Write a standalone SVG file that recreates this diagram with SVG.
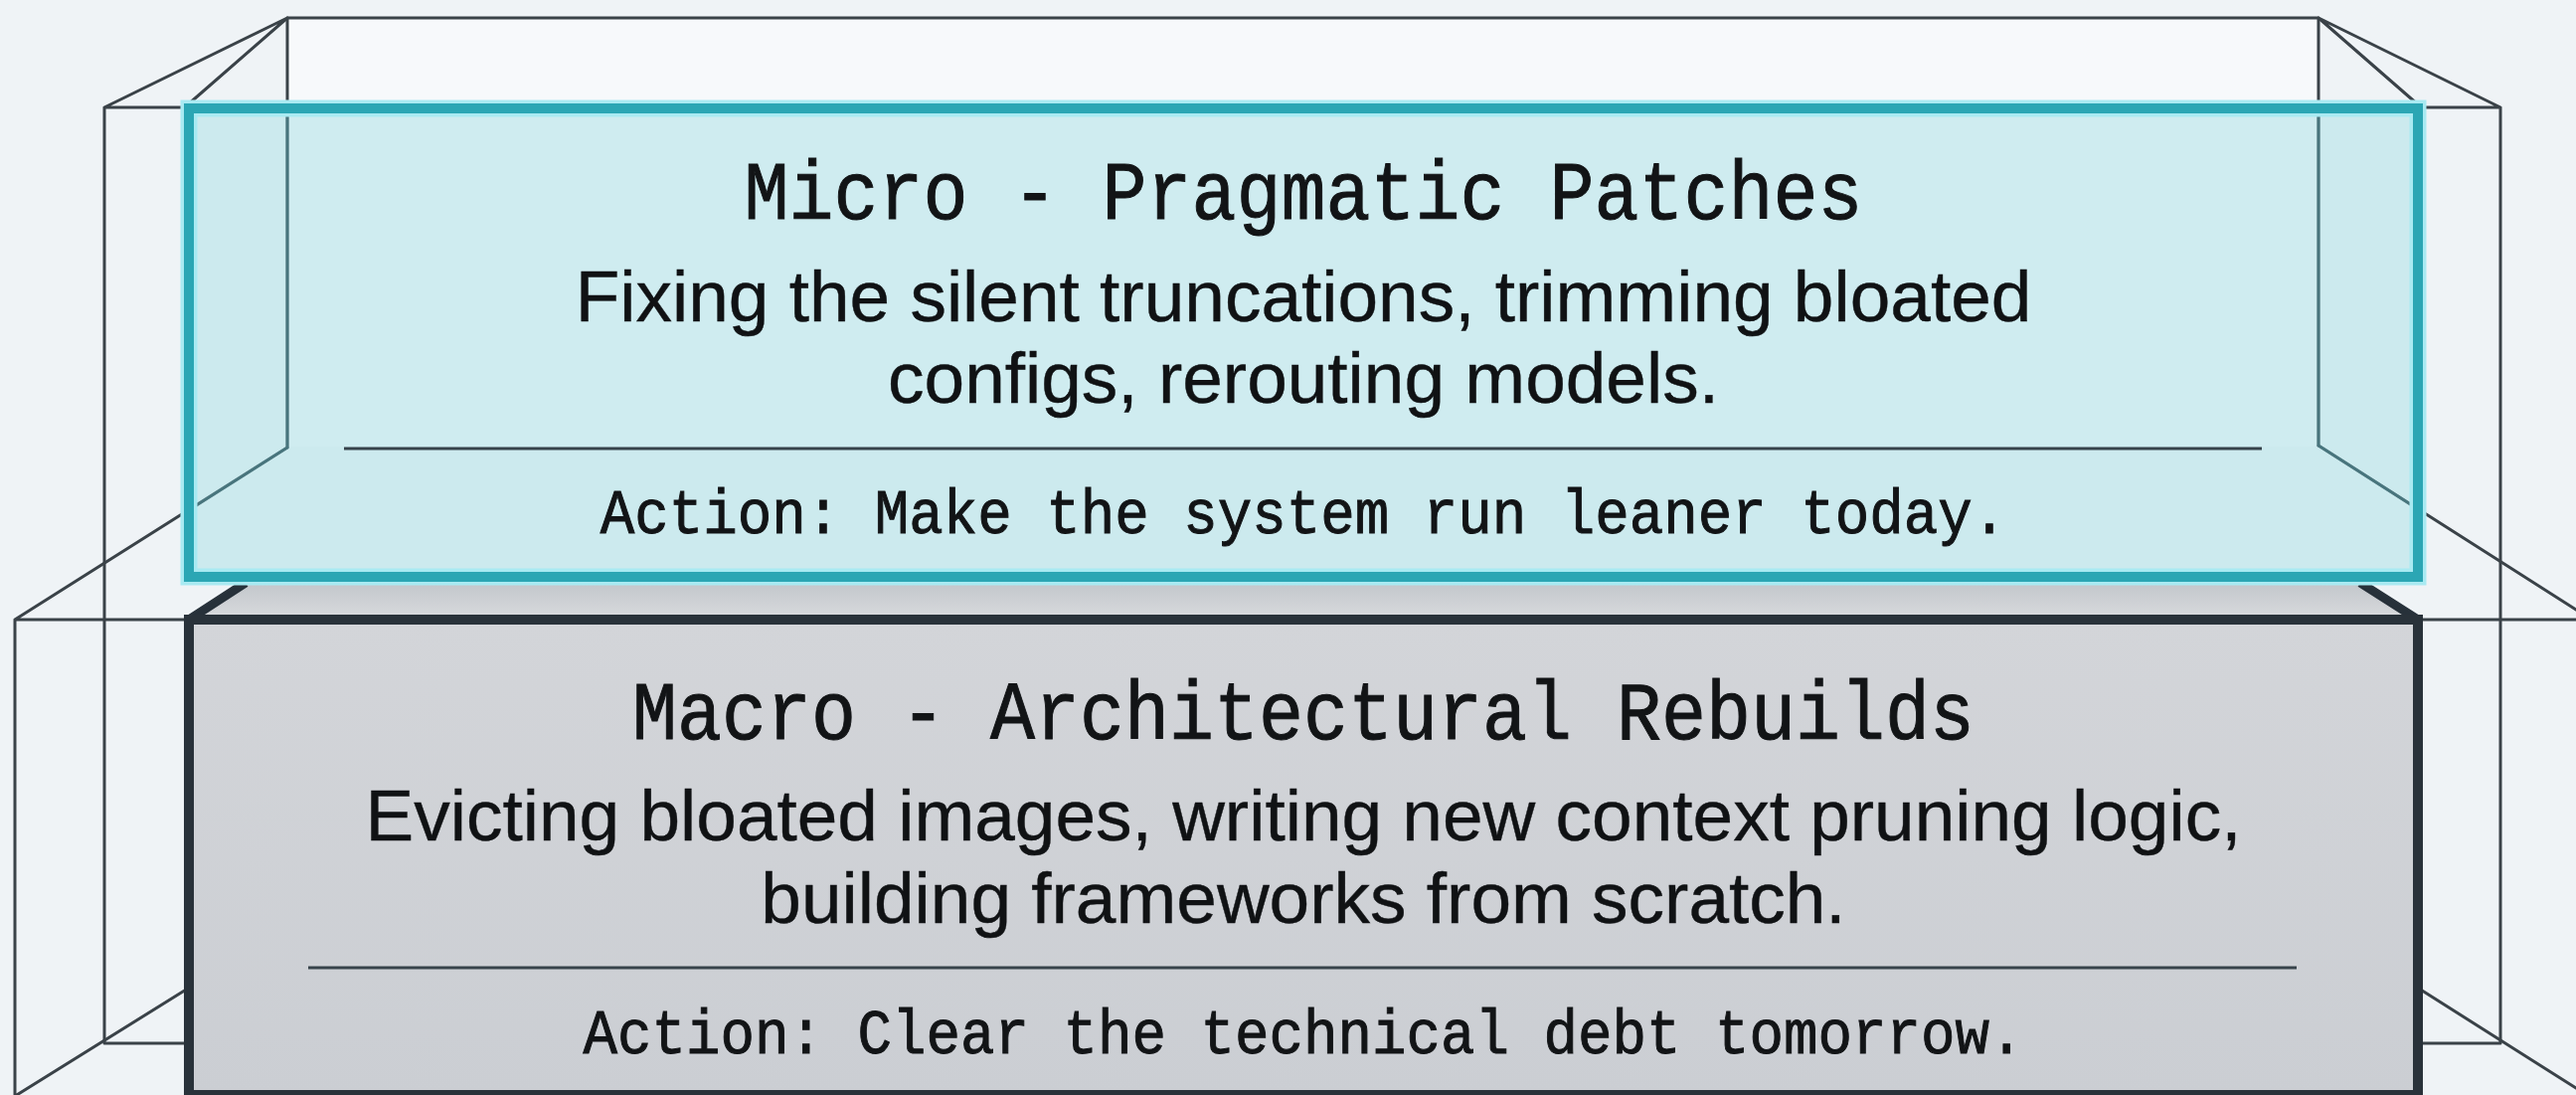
<svg xmlns="http://www.w3.org/2000/svg" width="2591" height="1101" viewBox="0 0 2591 1101">
  <defs>
    <style>
      .wire { fill: none; stroke: #3a4248; stroke-width: 3; stroke-linecap: round; }
      .seen { fill: none; stroke: #3f6f77; stroke-width: 3; stroke-opacity: 0.85; }
      .rule { stroke: #37434b; stroke-width: 3; }
      .mono { font-family: "Liberation Mono", "DejaVu Sans Mono", monospace; fill: #121416; stroke: #121416; stroke-width: 0.9; text-anchor: middle; }
      .sans { font-family: "Liberation Sans", Arial, "Noto Sans", sans-serif; fill: #101214; stroke: #101214; stroke-width: 0.4; text-anchor: middle; }
      .title { font-size: 75px; }
      .body { font-size: 73px; }
      .action { font-size: 57.5px; }
    </style>
    <linearGradient id="topFace" x1="0" y1="0" x2="0" y2="1">
      <stop offset="0" stop-color="#c3c7cc"/>
      <stop offset="1" stop-color="#d9dbde"/>
    </linearGradient>
    <linearGradient id="greyFill" x1="0" y1="0" x2="0" y2="1">
      <stop offset="0" stop-color="#d3d5d9"/>
      <stop offset="1" stop-color="#cbced3"/>
    </linearGradient>
  </defs>

  <!-- page -->
  <rect width="2591" height="1101" fill="#eff3f6"/>

  <!-- wireframe casing drawn behind both layers -->
  <g id="frame">
    <rect x="289" y="18" width="2043" height="431" fill="#f7f9fb"/>
    <!-- back face -->
    <path class="wire" d="M289 18 H2332 M289 18 V450 M2332 18 V448"/>
    <!-- left side -->
    <path class="wire" d="M289 18 L105 108 M289 18 L188 106 M105 108 H190 M105 108 V1049 M105 1049 H190"/>
    <path class="wire" d="M289 450 L15 623 M15 623 H190 M15 623 V1101 M200 987 L12 1104"/>
    <!-- right side -->
    <path class="wire" d="M2332 18 L2515 108 M2332 18 L2433 106 M2432 108 H2515 M2515 108 V1049 M2432 1049 H2515"/>
    <path class="wire" d="M2332 448 L2605 622 M2432 623 H2591 M2422 987 L2610 1106"/>
  </g>

  <!-- lower layer -->
  <g id="macro-layer">
    <polygon points="190,623 245,587 2376,587 2432,623" fill="url(#topFace)"/>
    <path d="M190 623 L247 586 M2432 623 L2374 586" stroke="#27313a" stroke-width="9" fill="none"/>
    <rect x="190" y="623" width="2242" height="478" fill="url(#greyFill)" stroke="#29323a" stroke-width="10"/>
    <line class="rule" x1="310" y1="973" x2="2310" y2="973"/>
    <text class="mono title" transform="translate(1311 743) scale(1 1.1)">Macro - Architectural Rebuilds</text>
    <text class="sans body" x="1311" y="845">Evicting bloated images, writing new context pruning logic,</text>
    <text class="sans body" x="1311" y="928">building frameworks from scratch.</text>
    <text class="mono action" transform="translate(1311 1059) scale(1 1.1)">Action: Clear the technical debt tomorrow.</text>
  </g>

  <!-- upper layer: translucent panel -->
  <g id="micro-layer">
    <rect x="190" y="109" width="2242" height="471" fill="#afe2e7" fill-opacity="0.55"/>
    <!-- casing edges showing through the glass -->
    <path class="seen" d="M289 114 V450 L196 509 M2332 114 V448 L2426 508"/>
    <rect x="190" y="109" width="2242" height="471" fill="none" stroke="#a9eaf2" stroke-width="17"/>
    <rect x="190" y="109" width="2242" height="471" fill="none" stroke="#2ba6b4" stroke-width="10"/>
    <line class="rule" x1="346" y1="451" x2="2275" y2="451"/>
    <text class="mono title" transform="translate(1311 220) scale(1 1.1)">Micro - Pragmatic Patches</text>
    <text class="sans body" x="1311" y="323">Fixing the silent truncations, trimming bloated</text>
    <text class="sans body" x="1311" y="405">configs, rerouting models.</text>
    <text class="mono action" transform="translate(1311 536) scale(1 1.1)">Action: Make the system run leaner today.</text>
  </g>
</svg>
